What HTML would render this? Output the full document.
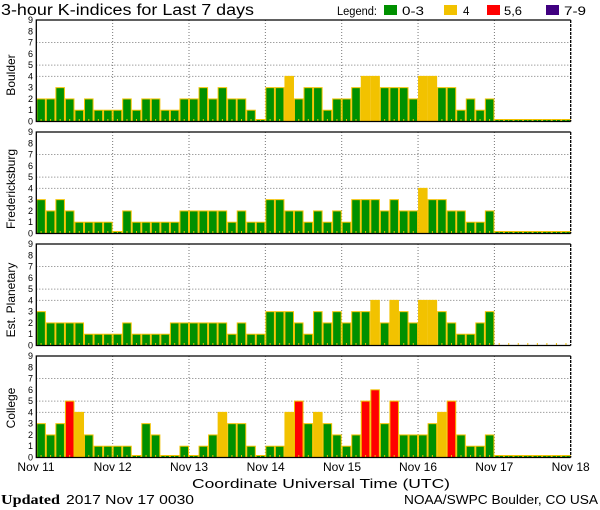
<!DOCTYPE html>
<html><head><meta charset="utf-8"><style>
html,body{margin:0;padding:0;background:#fff;}
svg{display:block;font-family:"Liberation Sans",sans-serif;}
</style></head><body>
<svg id="c" width="600" height="510" viewBox="0 0 600 510" xmlns="http://www.w3.org/2000/svg">
<rect width="600" height="510" fill="#fff"/>
<text x="1" y="15" font-size="15.5" fill="#000" textLength="253" lengthAdjust="spacingAndGlyphs">3-hour K-indices for Last 7 days</text>
<text x="337" y="15" font-size="11.5" textLength="40" lengthAdjust="spacingAndGlyphs">Legend:</text>
<rect x="384" y="5" width="13" height="10" fill="#009000"/>
<text x="402" y="15" font-size="11.5" textLength="22" lengthAdjust="spacingAndGlyphs">0-3</text>
<rect x="444" y="5" width="13" height="10" fill="#f2c200"/>
<text x="463" y="15" font-size="11.5">4</text>
<rect x="487" y="5" width="13" height="10" fill="#ff0000"/>
<text x="504" y="15" font-size="11.5" textLength="18" lengthAdjust="spacingAndGlyphs">5,6</text>
<rect x="546" y="5" width="13" height="10" fill="#400080"/>
<text x="564" y="15" font-size="11.5" textLength="22" lengthAdjust="spacingAndGlyphs">7-9</text>
<g id="g"></g>
<g font-size="12" text-anchor="middle">
<text transform="translate(15,75) rotate(-90)">Boulder</text>
<text transform="translate(15,189) rotate(-90)">Fredericksburg</text>
<text transform="translate(15,300) rotate(-90)">Est. Planetary</text>
<text transform="translate(15,408) rotate(-90)">College</text>
</g>
<g font-size="12" text-anchor="middle">
<text x="36" y="471">Nov 11</text><text x="112.7" y="471">Nov 12</text><text x="189" y="471">Nov 13</text><text x="265.7" y="471">Nov 14</text><text x="342" y="471">Nov 15</text><text x="418" y="471">Nov 16</text><text x="494.3" y="471">Nov 17</text><text x="570.7" y="471">Nov 18</text>
</g>
<text x="192" y="488" font-size="13" textLength="258" lengthAdjust="spacingAndGlyphs">Coordinate Universal Time (UTC)</text>
<text x="1" y="504" font-size="13.5" font-family="Liberation Serif,serif" font-weight="bold" textLength="59" lengthAdjust="spacingAndGlyphs">Updated</text>
<text x="66" y="504" font-size="13" textLength="128" lengthAdjust="spacingAndGlyphs">2017 Nov 17 0030</text>
<text x="404" y="504" font-size="13" textLength="194" lengthAdjust="spacingAndGlyphs">NOAA/SWPC Boulder, CO USA</text>
<g id="yl" font-size="9" text-anchor="end"></g>
</svg>
<script>
var data=[
[2,2,3,2,1,2,1,1, 1,2,1,2,2,1,1,2, 2,3,2,3,2,2,1,0, 3,3,4,2,3,3,1,2, 2,3,4,4,3,3,3,2, 4,4,3,3,1,2,1,2, 0,0,0,0,0,0,0,0],
[3,2,3,2,1,1,1,1, 0,2,1,1,1,1,1,2, 2,2,2,2,1,2,1,1, 3,3,2,2,1,2,1,2, 1,3,3,3,2,3,2,2, 4,3,3,2,2,1,1,2, 0,0,0,0,0,0,0,0],
[3,2,2,2,2,1,1,1, 1,2,1,1,1,1,2,2, 2,2,2,2,1,2,1,1, 3,3,3,2,1,3,2,3, 2,3,3,4,2,4,3,2, 4,4,3,2,1,1,2,3, -1,-1,-1,-1,-1,-1,-1,-1],
[3,2,3,5,4,2,1,1, 1,1,0,3,2,0,0,1, 0,1,2,4,3,3,1,0, 1,1,4,5,3,4,3,2, 1,2,5,6,3,5,2,2, 2,3,4,5,2,1,1,2, 0,0,0,0,0,0,0,0]];
var tops=[20,132,244,356],H=101.5,u=H/9,x0=36.3,dw=76.35,bw=dw/8,R=570.7;
var s='',yl='';
function col(v){return v<=3?'#009000':v==4?'#f2c200':v<=6?'#ff0000':'#400080';}
for(var p=0;p<4;p++){var t=tops[p],b=t+H;
 for(var d=1;d<7;d++){var x=x0+d*dw;s+='<line x1="'+x+'" y1="'+t+'" x2="'+x+'" y2="'+b+'" stroke="#777" stroke-dasharray="1,2"/>';}
 [4,5,7].forEach(function(k){var y=b-k*u;s+='<line x1="'+x0+'" y1="'+y+'" x2="'+R+'" y2="'+y+'" stroke="#777" stroke-dasharray="1,2"/>';});
 for(var i=0;i<56;i++){var v=data[p][i],x=x0+i*bw;
  if(v>=0){var h=v==0?2:v*u;s+='<rect x="'+(x+0.5)+'" y="'+(b-h)+'" width="'+(bw-1)+'" height="'+h+'" fill="'+col(v)+'" stroke="#f2c200" stroke-width="1"/>';}
  s+='<line x1="'+(x+bw/2)+'" y1="'+(b-2.5)+'" x2="'+(x+bw/2)+'" y2="'+b+'" stroke="#f2c200"/>';}
 s+='<path d="M'+R+' '+t+'H'+x0+'V'+b+'H'+R+'" fill="none" stroke="#000" stroke-width="1.3"/>';
 s+='<line x1="'+R+'" y1="'+t+'" x2="'+R+'" y2="'+b+'" stroke="#000" stroke-width="1.3" stroke-dasharray="3,1"/>';
 for(var k=0;k<=9;k++){yl+='<text x="33" y="'+(b-k*u+3)+'">'+k+'</text>';}
}
document.getElementById('g').innerHTML=s;
document.getElementById('yl').innerHTML=yl;
</script>
</body></html>
